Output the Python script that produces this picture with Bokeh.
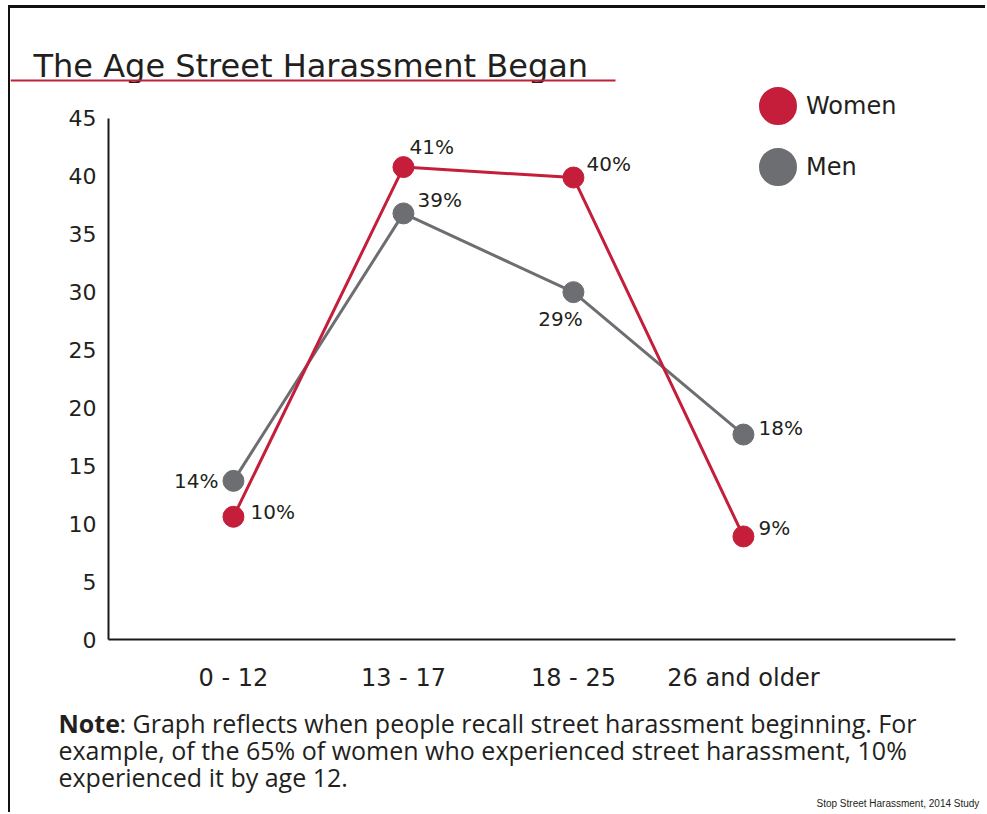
from bokeh.plotting import figure
from bokeh.layouts import column
from bokeh.models import (Range1d, FixedTicker, Label, BoxAnnotation, Legend,
                          LegendItem, ColumnDataSource)
from bokeh.core.properties import value
from bokeh.embed import file_html
from bokeh.resources import INLINE

# ---------------- data ----------------
categories = ["0 - 12", "13 - 17", "18 - 25", "26 and older"]
women = [10.6, 40.8, 39.9, 8.9]
men = [13.7, 36.8, 30.0, 17.7]
women_labels = ["10%", "41%", "40%", "9%"]
men_labels = ["14%", "39%", "29%", "18%"]
y_ticks = [0, 5, 10, 15, 20, 25, 30, 35, 40, 45]

title_text = "The Age Street Harassment Began"
legend_labels = ["Women", "Men"]
note_bold = "Note"
note_lines = [
    ": Graph reflects when people recall street harassment beginning. For",
    "example, of the 65% of women who experienced street harassment, 10%",
    "experienced it by age 12.",
]
source_text = "Stop Street Harassment, 2014 Study"

# ---------------- style ----------------
RED = "#c41e3a"
GREY = "#6d6e71"
INK = "#231f20"
FONT = "DejaVu Sans"
NOTE_FONT = "Open Sans"
W = 975
H_TITLE, H_CHART, H_NOTE = 75, 617, 112


def blank_fig(h):
    f = figure(width=W, height=h, output_backend="svg", toolbar_location=None,
               x_range=Range1d(0, W), y_range=Range1d(0, h),
               min_border=0, title=None, frame_align=False)
    f.axis.visible = False
    f.grid.visible = False
    f.outline_line_color = None
    f.background_fill_color = "white"
    f.border_fill_color = "white"
    return f


# ---------------- title ----------------
pt = blank_fig(H_TITLE)
pt.add_layout(Label(x=23, y=18, x_units="screen", y_units="screen",
                    text=title_text, text_font=FONT, text_font_size="32px",
                    text_color=INK, text_baseline="alphabetic"))
pt.add_layout(BoxAnnotation(left=0, right=605, bottom=2, top=4,
                            left_units="screen", right_units="screen",
                            bottom_units="screen", top_units="screen",
                            fill_color=RED, fill_alpha=1, line_color=None))

# ---------------- chart ----------------
xs = list(range(len(categories)))
p = figure(width=W, height=H_CHART, output_backend="svg", toolbar_location=None,
           x_range=Range1d(-0.735, 4.424), y_range=Range1d(0, 48.02),
           min_border_left=98, min_border_top=0, min_border_bottom=61,
           min_border_right=0, title=None, frame_align=False)
p.outline_line_color = None
p.xgrid.visible = False
p.ygrid.visible = False
p.background_fill_color = "white"
p.border_fill_color = "white"

for ax in (p.xaxis[0], p.yaxis[0]):
    ax.axis_line_color = "#1a1a1a"
    ax.axis_line_width = 2
    ax.major_tick_line_color = None
    ax.minor_tick_line_color = None
    ax.major_label_text_font = FONT
    ax.major_label_text_color = INK

p.yaxis.ticker = FixedTicker(ticks=y_ticks)
p.yaxis.bounds = (0, 45)
p.yaxis.major_label_standoff = 6
p.yaxis.major_label_text_font_size = "22px"
p.xaxis.ticker = FixedTicker(ticks=xs)
p.xaxis.bounds = (-0.735, 4.247)
p.xaxis.major_label_overrides = {i: c for i, c in enumerate(categories)}
p.xaxis.major_label_standoff = 18
p.xaxis.major_label_text_font_size = "24px"

p.line(xs, men, line_color=GREY, line_width=3)
p.scatter(xs, men, size=21, fill_color=GREY, line_color=GREY)
p.line(xs, women, line_color=RED, line_width=3)
p.scatter(xs, women, size=21, fill_color=RED, line_color=RED)

lab_src = ColumnDataSource(dict(
    x=xs + xs,
    y=women + men,
    text=women_labels + men_labels,
    dx=[17, 6, 13, 15, -15, 14, -13, 15],
    dy=[-5, -20, -14, -8, 0, -13, 27, -7],
    align=["left", "left", "left", "left", "right", "left", "center", "left"],
))
p.text(x="x", y="y", text="text", x_offset="dx", y_offset="dy",
       text_align="align", text_baseline="middle", source=lab_src,
       text_font=value(FONT), text_font_size="20px", text_color=INK)

rw = p.scatter(xs, women, size=18, fill_color=RED, line_color=RED,
               line_width=20, visible=False)
rm = p.scatter(xs, men, size=18, fill_color=GREY, line_color=GREY,
               line_width=20, visible=False)
legend = Legend(items=[LegendItem(label=legend_labels[0], renderers=[rw]),
                       LegendItem(label=legend_labels[1], renderers=[rm])],
                location=(647, 450), glyph_width=45, glyph_height=45,
                spacing=16, padding=0, margin=0, border_line_color=None,
                background_fill_alpha=0, label_text_font=FONT,
                label_text_font_size="24px", label_text_color=INK,
                label_standoff=6)
p.add_layout(legend)

# ---------------- note ----------------
pn = blank_fig(H_NOTE)
pn.add_layout(Label(x=48, y=90, x_units="screen", y_units="screen",
                    text=note_bold, text_font=NOTE_FONT, text_font_style="bold",
                    text_font_size="25px", text_color=INK, text_baseline="middle"))
pn.add_layout(Label(x=109, y=90, x_units="screen", y_units="screen",
                    text=note_lines[0], text_font=NOTE_FONT,
                    text_font_size="25px", text_color=INK, text_baseline="middle"))
pn.add_layout(Label(x=48, y=63, x_units="screen", y_units="screen",
                    text=note_lines[1], text_font=NOTE_FONT,
                    text_font_size="25px", text_color=INK, text_baseline="middle"))
pn.add_layout(Label(x=48, y=36, x_units="screen", y_units="screen",
                    text=note_lines[2], text_font=NOTE_FONT,
                    text_font_size="25px", text_color=INK, text_baseline="middle"))
pn.add_layout(Label(x=806, y=9, x_units="screen", y_units="screen",
                    text=source_text, text_font="Liberation Sans",
                    text_font_size="10px", text_color=INK, text_baseline="middle"))

layout = column(pt, p, pn, spacing=0,
                styles={"margin-left": "8px", "margin-top": "5px",
                        "border-left": "2px solid #111111",
                        "border-top": "3px solid #111111"})

open("out.html", "w").write(file_html(layout, INLINE))
